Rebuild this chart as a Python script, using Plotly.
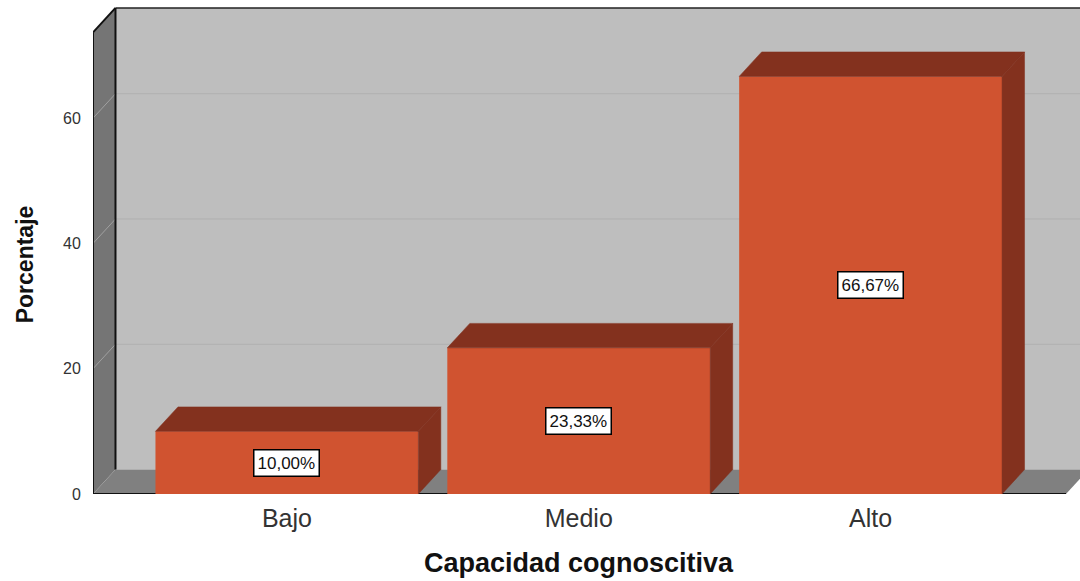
import plotly.graph_objects as go

categorias = ["Bajo", "Medio", "Alto"]
porcentajes = [10.00, 23.33, 66.67]
etiquetas = ["10,00%", "23,33%", "66,67%"]
y_ticks = [0, 20, 40, 60]
titulo_x = "Capacidad cognoscitiva"
titulo_y = "Porcentaje"

W, H = 1080, 581
ML, MB = 92.5, 86.5
UNIT_X = 292.0
UNIT_Y = 6.27
X0_PX = 286.5
PLOT_H = H - MB
PLOT_W = W - ML
x_min = (ML - X0_PX) / UNIT_X
x_max = (W - X0_PX) / UNIT_X
y_max = PLOT_H / UNIT_Y
DX = 22.5 / UNIT_X
DY = 24.5 / UNIT_Y
BAR_W = 263 / UNIT_X
TOP = 73.7
RIGHT = (1066 - X0_PX) / UNIT_X

C_FRONT = "#d05330"
C_DARK = "#83311e"
C_BACK = "#bebebe"
C_LEFT = "#757575"
C_FLOOR = "#808080"
C_GRID = "#b0b0b0"


def poly(xs, ys, fill, line=None, width=0):
    path = "M " + " L ".join(f"{x},{y}" for x, y in zip(xs, ys)) + " Z"
    return dict(type="path", path=path, xref="x", yref="y", fillcolor=fill,
                line=dict(color=line or fill, width=width), layer="below")


def seg(x0, y0, x1, y1, color, width):
    return dict(type="line", x0=x0, y0=y0, x1=x1, y1=y1, xref="x", yref="y",
                line=dict(color=color, width=width), layer="below")


shapes = [
    poly([x_min + DX, RIGHT + DX, RIGHT + DX, x_min + DX], [DY, DY, TOP + DY, TOP + DY], C_BACK),
    poly([x_min, x_min + DX, x_min + DX, x_min], [0, DY, TOP + DY, TOP], C_LEFT),
    poly([x_min, RIGHT, RIGHT + DX, x_min + DX], [0, 0, DY, DY], C_FLOOR),
]
for t in y_ticks[1:]:
    shapes.append(seg(x_min, t, x_min + DX, t + DY, "#a0a0a0", 1))
    shapes.append(seg(x_min + DX, t + DY, RIGHT + DX, t + DY, C_GRID, 1))
shapes += [
    seg(x_min, 0, x_min, TOP, "#111111", 2),
    seg(x_min, TOP, x_min + DX, TOP + DY, "#111111", 2),
    seg(x_min + DX, TOP + DY, RIGHT + DX, TOP + DY, "#222222", 1.5),
    seg(x_min + DX, DY, x_min + DX, TOP + DY, "#111111", 2),
    seg(x_min, 0, RIGHT, 0, "#111111", 2),
]

fig = go.Figure()
xpos = list(range(len(categorias)))

fig.add_trace(go.Bar(x=xpos, y=porcentajes, width=BAR_W, marker=dict(color=C_FRONT, line=dict(width=0)),
                     showlegend=False, hoverinfo="skip"))

for x, v in zip(xpos, porcentajes):
    l, r = x - BAR_W / 2, x + BAR_W / 2
    fig.add_trace(go.Scatter(x=[l, r, r + DX, l + DX, l], y=[v, v, v + DY, v + DY, v],
                             mode="lines", fill="toself", fillcolor=C_DARK,
                             line=dict(color=C_DARK, width=0.5), showlegend=False, hoverinfo="skip"))
    fig.add_trace(go.Scatter(x=[r, r + DX, r + DX, r, r], y=[0, DY, v + DY, v, 0],
                             mode="lines", fill="toself", fillcolor=C_DARK,
                             line=dict(color=C_DARK, width=0.5), showlegend=False, hoverinfo="skip"))

annotations = [
    dict(x=x, y=v / 2, xref="x", yref="y", text=e, showarrow=False,
         font=dict(family="Liberation Sans", size=17, color="#111111"),
         bgcolor="white", bordercolor="black", borderwidth=1.5, borderpad=3)
    for x, v, e in zip(xpos, porcentajes, etiquetas)
]
annotations.append(dict(x=(579 - ML) / PLOT_W, y=(PLOT_H - 564) / PLOT_H, xref="paper", yref="paper",
                        xanchor="center", yanchor="middle",
                        text=f"<b>{titulo_x}</b>", showarrow=False,
                        font=dict(family="Liberation Sans", size=27, color="#111111")))
annotations.append(dict(x=(24 - ML) / PLOT_W, y=(PLOT_H - 265) / PLOT_H, xref="paper", yref="paper",
                        xanchor="center", yanchor="middle",
                        text=f"<b>{titulo_y}</b>", showarrow=False, textangle=-90,
                        font=dict(family="Liberation Sans", size=23, color="#111111")))

fig.update_layout(
    width=W, height=H, autosize=False,
    margin=dict(l=ML, r=0, t=0, b=MB, pad=0),
    paper_bgcolor="white", plot_bgcolor="white",
    shapes=shapes, annotations=annotations, showlegend=False,
    xaxis=dict(range=[x_min, x_max], tickmode="array", tickvals=xpos, ticktext=categorias,
               tickfont=dict(family="Liberation Sans", size=25, color="#333333"),
               ticks="outside", ticklen=2, tickcolor="rgba(0,0,0,0)",
               showgrid=False, zeroline=False, showline=False, automargin=False),
    yaxis=dict(range=[0, y_max], tickmode="array", tickvals=y_ticks,
               tickfont=dict(family="Liberation Sans", size=16, color="#333333"),
               ticks="outside", ticklen=8, tickcolor="rgba(0,0,0,0)",
               showgrid=False, zeroline=False, showline=False, automargin=False),
)

fig.write_html("out.html", config=dict(displayModeBar=False),
               post_script="document.body.style.margin='0';document.body.style.overflow='hidden';")
